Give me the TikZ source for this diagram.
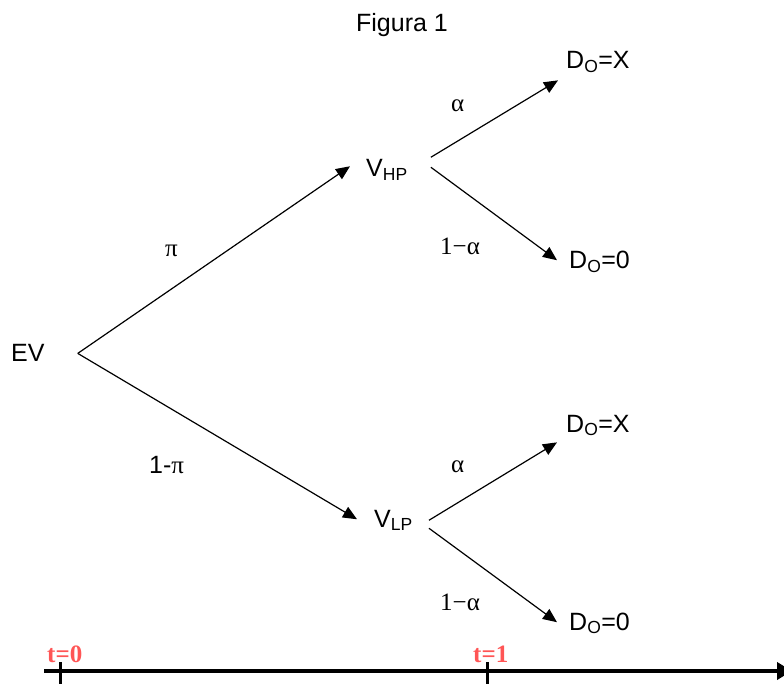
\documentclass[tikz,border=0pt]{standalone}
\usepackage{fontspec}
\setmainfont{Liberation Serif}
\setsansfont{Liberation Sans}
\usetikzlibrary{arrows.meta,positioning}
\definecolor{tred}{RGB}{255,85,85}
\newcommand{\lowx}[1]{\textsubscript{#1}}
\tikzset{lbl/.style={inner sep=0pt,anchor=base west,font=\sffamily\fontsize{25}{30}\selectfont},
  prob/.style={inner sep=0pt,anchor=base west,font=\rmfamily\fontsize{25}{30}\selectfont},
  tlbl/.style={inner sep=0pt,anchor=base west,text=tred,font=\rmfamily\bfseries\fontsize{25}{30}\selectfont},
  arr/.style={-{Triangle[length=14pt,width=12pt]},line width=1.2pt},
  axis/.style={-{Triangle[length=15pt,width=17pt]},line width=4.5pt},
  tick/.style={line width=3pt}}

\begin{document}
\begin{tikzpicture}[x=1pt,y=-1pt]
\useasboundingbox (0,0) rectangle (784,684);
\node[lbl,anchor=base] (title) at (402,32){Figura 1};
\node[lbl] (ev) at (11,362){EV};
\node[lbl] (vhp) at (366,177){V\lowx{HP}}; \node[lbl] (vlp) at (374,527){V\lowx{LP}};
\node[lbl] (hpx) at (566,69){D\lowx{O}=X}; \node[lbl] (hp0) at (569,269){D\lowx{O}=0};
\node[lbl] (lpx) at (566,432){D\lowx{O}=X}; \node[lbl] (lp0) at (569,630){D\lowx{O}=0};
\node[prob] (pi) at (165,257){π}; \node[lbl] (omp) at (149,473){1-{\rmfamily π}};
\node[prob] (ahp) at (451,112){α}; \node[prob] (bhp) at (440,255){1−α};
\node[prob] (alp) at (451,472){α}; \node[prob] (blp) at (440,610){1−α};
\node[tlbl] (t0) at (47,662){t=0}; \node[tlbl] (t1) at (473,662){t=1};
% tree
\draw[arr] ([xshift=33pt]ev.east) -- ([xshift=-16pt,yshift=4pt]vhp.west);
\draw[arr] ([xshift=33pt]ev.east) -- ([xshift=-17pt,yshift=1pt]vlp.west);
\draw[arr] ([xshift=23pt,yshift=13pt]vhp.east) -- ([xshift=-8pt,yshift=-18pt]hpx.west);
\draw[arr] ([xshift=23pt,yshift=3pt]vhp.east) -- ([xshift=-12pt,yshift=2pt]hp0.west);
\draw[arr] ([xshift=16pt]vlp.east) -- ([xshift=-9pt,yshift=-17pt]lpx.west);
\draw[arr] ([xshift=16pt,yshift=-8pt]vlp.east) -- ([xshift=-12pt,yshift=1pt]lp0.west);
% time axis
\coordinate (a0) at (44,671); \coordinate (a1) at (792,671);
\draw[axis] (a0) -- (a1);
\foreach \x in {60,487} \draw[tick] (\x,662) -- (\x,690);
\end{tikzpicture}
\end{document}
